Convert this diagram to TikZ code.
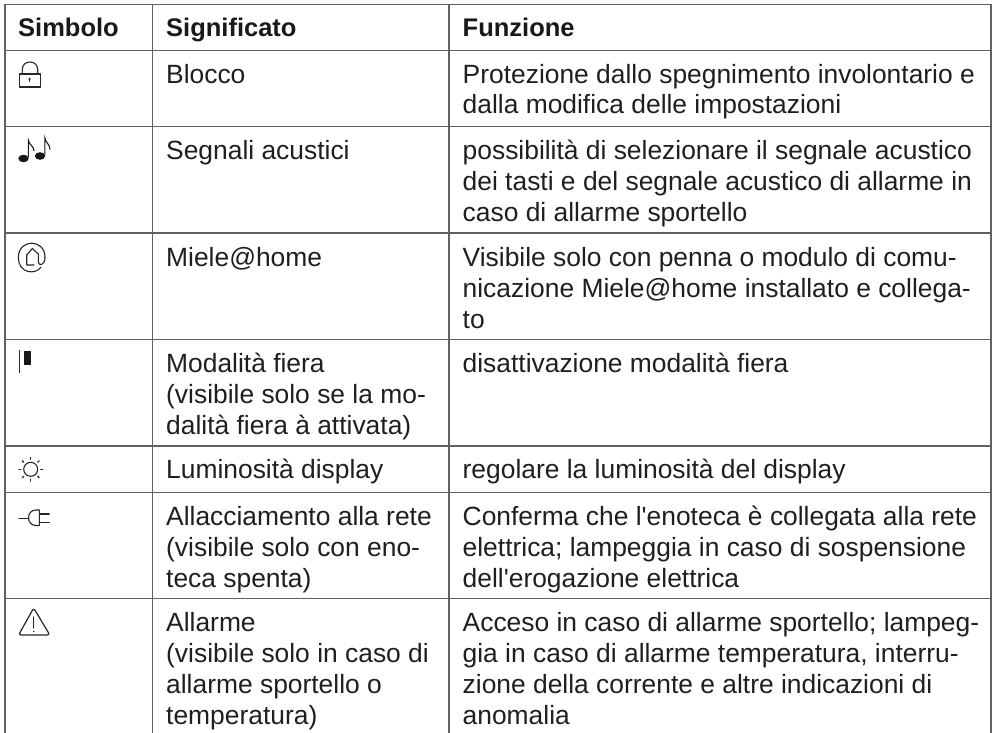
\documentclass[tikz,border=0pt]{standalone}
\usepackage{fontspec}
\usetikzlibrary{calc}
\newfontfamily\mfont{Liberation Sans}
\begin{document}
\begin{tikzpicture}[x=1pt,y=-1pt,
  grid/.style={draw=black!62,line width=1.5pt},
  txt/.style={anchor=base west,inner sep=0pt,font=\mfont\fontsize{26.4}{30}\selectfont,text=black!88},
  hd/.style={anchor=base west,inner sep=0pt,font=\mfont\fontsize{25.5}{30}\selectfont\bfseries,text=black!90},
  ic/.style={draw=black!85,line width=1.1pt,line cap=round,line join=round}]
\useasboundingbox (0,0) rectangle (996,733);
\fill[white] (0,0) rectangle (996,733);
\foreach \y in {4.3,50.5,126.7,233,339.5,446,492.7,598.7} \draw[grid] (5,\y) -- (991,\y);
\foreach \x in {5,152.7,449,991} \draw[grid] (\x,4.3) -- (\x,733);
\node[hd] at (18,37) {Simbolo};
\node[hd] at (166,37) {Significato};
\node[hd] at (462.5,37) {Funzione};
\foreach \yy/\t in {
 83.7/Blocco,
 159.7/Segnali acustici,
 266.7/Miele@home,
 372.7/Modalità fiera,
 403.7/(visibile solo se la mo-,
 434.7/dalità fiera à attivata),
 478.7/Luminosità display,
 525.7/Allacciamento alla rete,
 556.7/(visibile solo con eno-,
 587.7/teca spenta),
 631.7/Allarme,
 662.7/(visibile solo in caso di,
 693.7/allarme sportello o,
 724.7/temperatura)}
 {\node[txt] at (166,\yy) {\t};}
\foreach \yy/\t in {
 83.7/Protezione dallo spegnimento involontario e,
 114/dalla modifica delle impostazioni,
 159.7/possibilità di selezionare il segnale acustico,
 190.7/dei tasti e del segnale acustico di allarme in,
 221.7/caso di allarme sportello,
 266.7/Visibile solo con penna o modulo di comu-,
 297.7/nicazione Miele@home installato e collega-,
 328.7/to,
 372.7/disattivazione modalità fiera,
 478.7/regolare la luminosità del display,
 525.7/Conferma che l'enoteca è collegata alla rete,
 556.7/elettrica; lampeggia in caso di sospensione,
 587.7/dell'erogazione elettrica,
 631.7/Acceso in caso di allarme sportello; lampeg-,
 662.7/{gia in caso di allarme temperatura, interru-},
 693.7/zione della corrente e altre indicazioni di,
 724.7/anomalia}
 {\node[txt] at (462.5,\yy) {\t};}
% lock
\draw[ic] (19.3,74) rectangle (40.5,87);
\draw[ic] (22.3,74) -- (22.3,69.5) .. controls (22.3,59.5) and (37.7,59.5) .. (37.7,69.5) -- (37.7,74);
\fill[black!85] (29.6,79) circle[radius=1.3];
\draw[black!85,line width=.8pt] (29.6,79) -- (29.6,82.5);
% notes
\fill[black!90] (23.5,158.5) ellipse[x radius=5.2,y radius=3.8];
\draw[black!90,line width=1.1pt] (28.3,157.5) -- (28.3,140) .. controls (29,145) and (34,146) .. (34,151);
\fill[black!90] (40,156) ellipse[x radius=5.2,y radius=3.8];
\draw[black!90,line width=1.1pt] (44.8,155) -- (44.8,137.7) .. controls (45.5,143) and (50,144) .. (50,149.5);
% at home
\draw[ic] (45,257.3) .. controls (45,238.5) and (18.4,238.5) .. (18.4,257.3) .. controls (18.4,274) and (36,275) .. (41,267);
\draw[ic] (34,265) -- (26.7,265) -- (26.7,255) -- (32.3,248.5) -- (38.3,254) -- (38.3,262) .. controls (38.3,266) and (45,266) .. (45,257.3);
% flag
\draw[black!85,line width=1pt] (19.3,350) -- (19.3,373);
\fill[black!90] (24,351) rectangle (30.7,365);
% sun
\draw[ic] (30.7,469.3) circle[radius=7];
\foreach \a in {0,45,...,315} \draw[ic,line width=1.3pt] ($(30.7,469.3)+(\a:10)$) -- ($(30.7,469.3)+(\a:11.8)$);
% plug
\draw[ic] (19,518.2) -- (28.5,518.2);
\draw[ic] (39.3,510) -- (36,510) .. controls (26,510) and (26,525.5) .. (36,525.5) -- (39.3,525.5) -- cycle;
\draw[ic] (39.3,514) -- (49.3,514) (39.3,522.3) -- (49.3,522.3);
% warning
\draw[ic,line width=1.2pt,rounded corners=2.5pt] (33.7,608) -- (49.8,635) -- (18.6,635) -- cycle;
\draw[ic] (33.7,617) -- (33.7,628);
\fill[black!85] (33.7,631.5) circle[radius=.8];
\end{tikzpicture}
\end{document}
